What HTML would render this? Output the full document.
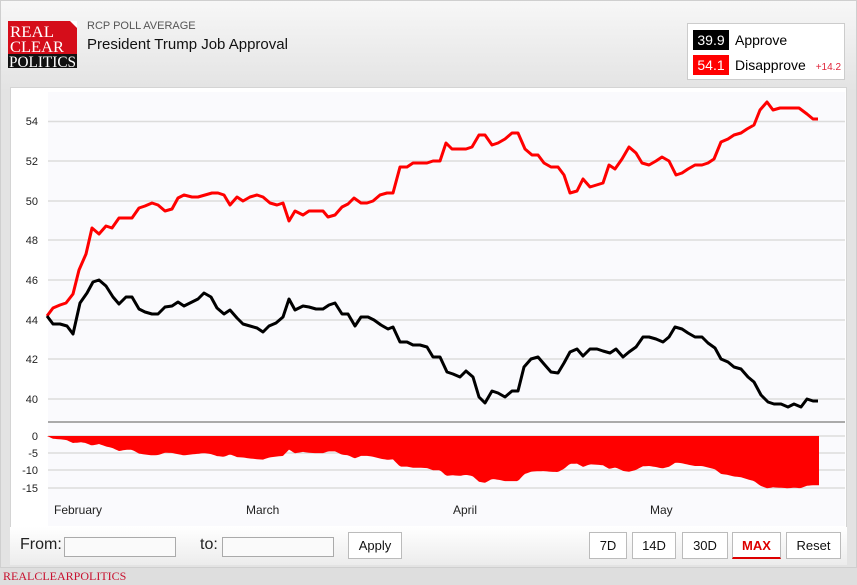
<!DOCTYPE html>
<html><head><meta charset="utf-8"><style>
body{margin:0;width:857px;height:585px;background:#dedede;font-family:"Liberation Sans",sans-serif;position:relative;overflow:hidden}
.frame{position:absolute;left:0;top:0;width:855px;height:566px;border:1px solid #cfcfcf;background:linear-gradient(#f7f7f7,#e3e3e3 90px,#e3e3e3)}
.logo{position:absolute;left:8px;top:21px;width:69px;height:47px}
.sub{position:absolute;left:87px;top:20px;font-size:11px;color:#555}
.title{position:absolute;left:87px;top:36px;font-size:15px;color:#111}
.legend{position:absolute;left:687px;top:23px;width:156px;height:55px;background:#fff;border:1px solid #ccc}
.lg{position:absolute;left:5px;height:20px;line-height:20px;font-size:14px}
.lg b{display:inline-block;width:36px;text-align:center;color:#fff;font-weight:normal;margin-right:6px}
.panel{position:absolute;left:10px;top:87px;width:835px;height:440px;background:#fff;border:1px solid #d4d4d4}
.bar{position:absolute;left:10px;top:527px;width:837px;height:38px;background:linear-gradient(#fff,#ececec)}
.inp{position:absolute;top:537px;height:18px;border:1px solid #aaa;background:#fafafa}
.btn{position:absolute;top:532px;height:25px;border:1px solid #bbb;background:#fff;font-size:13px;line-height:25px;text-align:center;color:#111}
.lab{position:absolute;top:536px;font-size:16px;color:#222}
</style></head><body>
<div class="frame"></div>
<svg class="logo" viewBox="0 0 69 47"><rect width="69" height="33" fill="#d50d1a"/><polygon points="62,0 69,7 69,0" fill="#fff"/><rect y="33" width="69" height="14" fill="#111"/>
<text x="2" y="16" font-family="Liberation Serif" font-size="16" fill="#fff" textLength="44" lengthAdjust="spacingAndGlyphs">REAL</text><text x="2" y="31" font-family="Liberation Serif" font-size="16" fill="#fff" textLength="54" lengthAdjust="spacingAndGlyphs">CLEAR</text><text x="1" y="46" font-family="Liberation Serif" font-size="16" fill="#fff" textLength="67" lengthAdjust="spacingAndGlyphs">POLITICS</text></svg>
<div class="sub">RCP POLL AVERAGE</div>
<div class="title">President Trump Job Approval</div>
<div class="legend">
<div class="lg" style="top:6px"><b style="background:#000">39.9</b>Approve</div>
<div class="lg" style="top:31px"><b style="background:#f00">54.1</b>Disapprove <span style="color:#e0243a;font-size:10px;margin-left:6px">+14.2</span></div>
</div>
<div class="panel"></div>
<svg style="position:absolute;left:0;top:0" width="857" height="585" id="s">
<rect x="48" y="92" width="797" height="434" fill="#fafafd"/>
<g stroke="#dcdcdc" stroke-width="1.5">
<line x1="48" x2="845" y1="121.5" y2="121.5"/><line x1="48" x2="845" y1="161" y2="161"/><line x1="48" x2="845" y1="201" y2="201"/><line x1="48" x2="845" y1="240" y2="240"/><line x1="48" x2="845" y1="280" y2="280"/><line x1="48" x2="845" y1="320" y2="320"/><line x1="48" x2="845" y1="359" y2="359"/><line x1="48" x2="845" y1="399" y2="399"/>
<line x1="48" x2="845" y1="436" y2="436"/><line x1="48" x2="845" y1="453" y2="453"/><line x1="48" x2="845" y1="470" y2="470"/><line x1="48" x2="845" y1="488" y2="488"/>
</g>
<line x1="48" x2="845" y1="422" y2="422" stroke="#aaa" stroke-width="2"/>
<g font-size="11" fill="#222" text-anchor="end">
<text x="38" y="125">54</text><text x="38" y="165">52</text><text x="38" y="205">50</text><text x="38" y="244">48</text><text x="38" y="284">46</text><text x="38" y="324">44</text><text x="38" y="363">42</text><text x="38" y="403">40</text>
<text x="38" y="440">0</text><text x="38" y="457">-5</text><text x="38" y="474">-10</text><text x="38" y="492">-15</text>
</g>
<g font-size="12" fill="#222"><text x="54" y="514">February</text><text x="246" y="514">March</text><text x="453" y="514">April</text><text x="650" y="514">May</text></g>
<polygon id="spread" fill="#f00"/>
<polyline id="red" fill="none" stroke="#f00" stroke-width="3" stroke-linejoin="round"/>
<polyline id="blk" fill="none" stroke="#000" stroke-width="3" stroke-linejoin="round"/>
</svg>
<div class="bar"></div>
<div class="lab" style="left:20px">From:</div><div class="inp" style="left:64px;width:110px"></div>
<div class="lab" style="left:200px">to:</div><div class="inp" style="left:222px;width:110px"></div>
<div class="btn" style="left:348px;width:52px">Apply</div>
<div class="btn" style="left:589px;width:36px">7D</div>
<div class="btn" style="left:632px;width:42px">14D</div>
<div class="btn" style="left:682px;width:44px">30D</div>
<div class="btn" style="left:732px;width:47px;color:#d00;font-weight:bold;border-bottom:2px solid #d00;height:24px">MAX</div>
<div class="btn" style="left:786px;width:53px">Reset</div>
<div style="position:absolute;left:3px;top:569px;font-family:'Liberation Serif',serif;font-size:12px;color:#c8102e">REALCLEARPOLITICS</div>
<script>
var R=[[47,316],[53,308],[60,305],[66,303],[73,294],[79,270],[86,254],[92,228],[99,234],[106,226],[112,228],[119,218],[132,218],[139,208],[145,206],[152,203],[158,205],[165,211],[172,209],[178,198],[184,195],[192,197],[198,197],[205,195],[212,193],[218,193],[224,195],[230,205],[237,197],[243,201],[250,197],[257,195],[263,197],[270,203],[277,205],[283,203],[289,221],[295,211],[303,215],[309,211],[323,211],[328,217],[335,215],[342,207],[348,204],[354,198],[361,203],[367,203],[373,201],[380,195],[387,193],[393,193],[400,167],[407,167],[413,163],[427,163],[433,161],[440,161],[446,143],[452,149],[466,149],[472,147],[479,135],[485,135],[492,145],[498,143],[505,139],[512,133],[518,133],[525,149],[532,155],[538,155],[544,163],[551,167],[558,167],[564,175],[570,193],[577,191],[583,179],[590,187],[603,183],[609,165],[615,169],[622,159],[629,147],[636,153],[642,163],[649,165],[656,161],[662,157],[669,161],[676,175],[682,173],[688,169],[695,165],[702,165],[708,163],[714,159],[721,142],[728,139],[734,135],[741,133],[747,129],[754,125],[760,110],[767,102],[773,110],[780,108],[799,108],[807,114],[813,119],[818,119]];
var B=[[47,316],[53,324],[60,324],[67,326],[73,334],[80,303],[87,293],[93,282],[99,280],[106,286],[113,297],[119,304],[126,297],[132,297],[139,309],[145,312],[152,314],[158,314],[165,307],[172,306],[178,302],[184,306],[192,302],[198,299],[204,293],[211,297],[217,308],[224,314],[230,310],[237,318],[243,324],[250,326],[257,328],[263,332],[269,326],[276,323],[283,317],[289,299],[295,310],[303,306],[309,307],[316,309],[323,309],[329,305],[335,303],[342,314],[348,314],[355,326],[361,317],[368,317],[374,320],[381,325],[388,329],[393,327],[400,342],[407,342],[413,345],[420,345],[427,347],[433,357],[440,357],[447,372],[453,374],[460,377],[466,371],[473,377],[479,397],[485,403],[492,391],[498,393],[505,397],[512,391],[518,391],[524,367],[531,359],[538,357],[544,364],[551,372],[558,373],[564,363],[570,352],[577,349],[583,356],[590,349],[597,349],[603,351],[610,353],[616,349],[623,357],[629,352],[636,347],[643,337],[649,337],[656,339],[663,342],[669,337],[675,327],[682,329],[688,333],[695,337],[702,337],[708,343],[715,348],[721,359],[728,362],[734,367],[741,369],[748,377],[754,382],[761,395],[768,402],[774,404],[781,404],[788,407],[794,404],[801,407],[807,399],[813,401],[818,401]];
function s(a){return a.map(function(p){return p.join(',')}).join(' ')}
document.getElementById('red').setAttribute('points',s(R));
document.getElementById('blk').setAttribute('points',s(B));
function interp(a,x){for(var i=1;i<a.length;i++){if(a[i][0]>=x){var t=(x-a[i-1][0])/((a[i][0]-a[i-1][0])||1);return a[i-1][1]+t*(a[i][1]-a[i-1][1]);}}return a[a.length-1][1];}
var P=['47,436'];for(var x=47;x<=819;x+=2){var y=436+(interp(B,x)-interp(R,x))*0.1747;P.push(x+','+y.toFixed(1));}P.push('819,436');
document.getElementById('spread').setAttribute('points',P.join(' '));
</script>
</body></html>
